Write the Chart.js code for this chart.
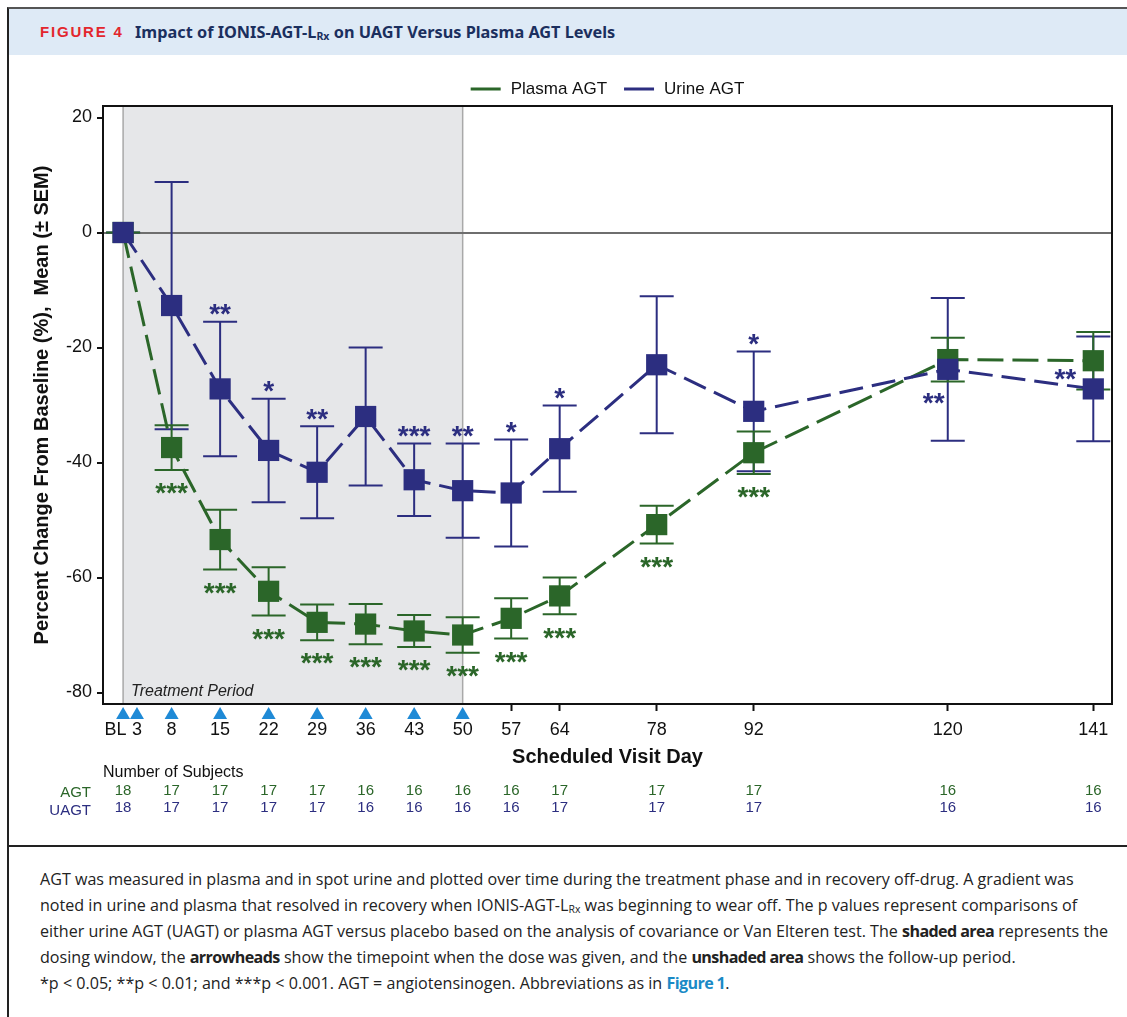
<!DOCTYPE html>
<html>
<head>
<meta charset="utf-8">
<script src="https://cdn.jsdelivr.net/npm/chart.js@4.4.1/dist/chart.umd.min.js"></script>
<style>
    body { margin: 0; background: #fff; width: 1127px; height: 1017px; overflow: hidden; position: relative; font-family: 'Liberation Sans', Arial, sans-serif; }
    #frame { position: absolute; left: 7px; top: 7px; width: 1130px; height: 1020px; border-left: 2px solid #222; border-top: 2px solid #555; }
    #head { position: absolute; left: 9px; top: 9px; width: 1118px; height: 46px; background: #deeaf6; }
    #fig { position: absolute; left: 40px; top: 23px; font: bold 15px 'Liberation Sans', Arial; color: #e3262d; letter-spacing: 1.8px; }
    #ttl { position: absolute; left: 135px; top: 21px; font: bold 16.3px 'Noto Sans'; color: #1b2f5e; }
    #ttl sub, #cap sub { font-size: 0.65em; vertical-align: -0.2em; line-height: 0; }
    #sep { position: absolute; left: 7px; top: 845px; width: 1120px; height: 2px; background: #222; }
    #wrap { position: absolute; left: 0; top: 56px; width: 1127px; height: 790px; }
    #cap { position: absolute; left: 40px; top: 866px; font: 16.1px 'Open Sans'; color: #222; line-height: 26px; white-space: nowrap; }
    #cap b { font-weight: bold; letter-spacing: -0.6px; }
</style>
</head>
<body>
<div id="frame"></div>
<div id="head"></div>
<div id="fig">FIGURE 4</div>
<div id="ttl">Impact of IONIS-AGT-L<sub>Rx</sub> on UAGT Versus Plasma AGT Levels</div>
<div id="wrap"><canvas id="agt-canvas"></canvas></div>
<div id="sep"></div>
<div id="cap">
AGT was measured in plasma and in spot urine and plotted over time during the treatment phase and in recovery off-drug. A gradient was<br>
noted in urine and plasma that resolved in recovery when IONIS-AGT-L<sub>Rx</sub> was beginning to wear off. The p values represent comparisons of<br>
either urine AGT (UAGT) or plasma AGT versus placebo based on the analysis of covariance or Van Elteren test. The <b>shaded area</b> represents the<br>
dosing window, the <b>arrowheads</b> show the timepoint when the dose was given, and the <b>unshaded area</b> shows the follow-up period.<br>
*p &lt; 0.05; **p &lt; 0.01; and ***p &lt; 0.001. AGT = angiotensinogen. Abbreviations as in <b style="color:#1a8ac6">Figure 1</b>.
</div>
<script>
// visit days (BL = day 1)
const visitDays = [1, 8, 15, 22, 29, 36, 43, 50, 57, 64, 78, 92, 120, 141];
const tickDays = [1, 3, 8, 15, 22, 29, 36, 43, 50, 57, 64, 78, 92, 120, 141];
const doseDays = [1, 3, 8, 15, 22, 29, 36, 43, 50];
const yTicks = [-80, -60, -40, -20, 0, 20];

const plasmaMean = [0, -37.4, -53.4, -62.4, -67.8, -68.1, -69.3, -70.0, -67.1, -63.2, -50.8, -38.3, -22.1, -22.3];
const plasmaSem = [0, 3.9, 5.2, 4.2, 3.1, 3.5, 2.8, 3.1, 3.5, 3.2, 3.3, 3.7, 3.8, 5.0];
const urineMean = [0, -12.7, -27.2, -37.9, -41.7, -32.0, -43.0, -44.9, -45.3, -37.6, -23.0, -31.1, -23.8, -27.2];
const urineSem = [0, 21.5, 11.7, 9.0, 8.0, 12.0, 6.3, 8.2, 9.3, 7.5, 11.9, 10.4, 12.4, 9.1];

const plasmaSig = ['', '***', '***', '***', '***', '***', '***', '***', '***', '***', '***', '***', '', ''];
const urineSig = ['', '', '**', '*', '**', '', '***', '**', '*', '*', '', '*', '**', '**'];

const plasmaN = [18, 17, 17, 17, 17, 16, 16, 16, 16, 17, 17, 17, 16, 16];
const urineN = [18, 17, 17, 17, 17, 16, 16, 16, 16, 17, 17, 17, 16, 16];

const GREEN = '#2b6629';
const NAVY = '#2c2e80';
const FONT = "'Liberation Sans', Arial, sans-serif";

function toPoints(means) {
    return visitDays.map((d, i) => ({ x: d, y: means[i] }));
}

// shaded treatment window + labels, error bars, stars, arrowheads, subject counts
const extras = {
    id: 'extras',
    beforeDraw(chart) {
        const { ctx, chartArea: a, scales: { x } } = chart;
        const x0 = x.getPixelForValue(doseDays[0]);
        const x1 = x.getPixelForValue(doseDays[doseDays.length - 1]);
        ctx.save();
        ctx.fillStyle = '#e6e7e9';
        ctx.fillRect(x0, a.top, x1 - x0, a.bottom - a.top);
        ctx.strokeStyle = '#a9a9a9';
        ctx.lineWidth = 1.5;
        ctx.beginPath();
        ctx.moveTo(x0, a.top); ctx.lineTo(x0, a.bottom);
        ctx.moveTo(x1, a.top); ctx.lineTo(x1, a.bottom);
        ctx.stroke();
        ctx.fillStyle = '#222';
        ctx.font = 'italic 16px ' + FONT;
        ctx.textBaseline = 'middle';
        ctx.fillText('Treatment Period', x0 + 8, a.bottom - 12);
        ctx.restore();
    },
    beforeDatasetsDraw(chart) {
        const { ctx, scales: { x, y } } = chart;
        const bars = [[urineMean, urineSem, NAVY], [plasmaMean, plasmaSem, GREEN]];
        ctx.save();
        ctx.lineWidth = 2;
        bars.forEach(([m, s, col]) => {
            ctx.strokeStyle = col;
            ctx.beginPath();
            visitDays.forEach((d, i) => {
                const px = x.getPixelForValue(d);
                const hi = y.getPixelForValue(m[i] + s[i]);
                const lo = y.getPixelForValue(m[i] - s[i]);
                ctx.moveTo(px, hi); ctx.lineTo(px, lo);
                ctx.moveTo(px - 17, hi); ctx.lineTo(px + 17, hi);
                ctx.moveTo(px - 17, lo); ctx.lineTo(px + 17, lo);
            });
            ctx.stroke();
        });
        ctx.restore();
    },
    afterDatasetsDraw(chart) {
        const { ctx, chartArea: a, scales: { x, y } } = chart;
        ctx.save();
        // significance stars
        const fs = 28;
        ctx.font = 'bold ' + fs + 'px ' + FONT;
        ctx.textAlign = 'center';
        ctx.textBaseline = 'alphabetic';
        const nudge = { 120: [-14, 26], 141: [-28, -17] }; // urine stars put beside the point
        visitDays.forEach((d, i) => {
            const px = x.getPixelForValue(d);
            if (urineSig[i]) {
                ctx.fillStyle = NAVY;
                let cx = px, cy = y.getPixelForValue(urineMean[i] + urineSem[i]) - 15;
                if (nudge[d]) { cx = px + nudge[d][0]; cy = y.getPixelForValue(urineMean[i]) + nudge[d][1]; }
                ctx.fillText(urineSig[i], cx, cy + fs * 0.58);
            }
            if (plasmaSig[i]) {
                ctx.fillStyle = GREEN;
                const cy = y.getPixelForValue(plasmaMean[i] - plasmaSem[i]) + 16;
                ctx.fillText(plasmaSig[i], px, cy + fs * 0.58);
            }
        });
        // plot frame (top and right)
        ctx.strokeStyle = '#111';
        ctx.lineWidth = 2;
        ctx.beginPath();
        ctx.moveTo(a.left - 1, a.top); ctx.lineTo(a.right, a.top); ctx.lineTo(a.right, a.bottom + 1);
        ctx.stroke();
        // dose arrowheads
        ctx.fillStyle = '#1f8ad6';
        doseDays.forEach(d => {
            const px = x.getPixelForValue(d);
            ctx.beginPath();
            ctx.moveTo(px, a.bottom + 3);
            ctx.lineTo(px + 7, a.bottom + 15);
            ctx.lineTo(px - 7, a.bottom + 15);
            ctx.closePath();
            ctx.fill();
        });
        // legend
        ctx.font = '17px ' + FONT;
        ctx.textAlign = 'left';
        ctx.textBaseline = 'middle';
        const items = chart.data.datasets.map(ds => [ds.label, ds.borderColor]);
        let total = 0;
        items.forEach(([t], k) => { total += 30 + 10 + ctx.measureText(t).width + (k ? 17 : 0); });
        let lx = (a.left + a.right) / 2 - total / 2;
        const ly = a.top - 17;
        items.forEach(([t, col]) => {
            ctx.fillStyle = col;
            ctx.fillRect(lx, ly - 1.5, 30, 3);
            ctx.fillStyle = '#111';
            ctx.fillText(t, lx + 40, ly);
            lx += 40 + ctx.measureText(t).width + 17;
        });
        // number of subjects
        const ty = a.bottom + 69;
        ctx.font = '16px ' + FONT;
        ctx.fillStyle = '#111';
        ctx.fillText('Number of Subjects', a.left, ty);
        ctx.font = '15px ' + FONT;
        ctx.textAlign = 'right';
        ctx.fillStyle = GREEN;
        ctx.fillText('AGT', a.left - 12, ty + 20);
        ctx.fillStyle = NAVY;
        ctx.fillText('UAGT', a.left - 12, ty + 38);
        ctx.textAlign = 'center';
        visitDays.forEach((d, i) => {
            const px = x.getPixelForValue(d);
            ctx.fillStyle = GREEN;
            ctx.fillText(String(plasmaN[i]), px, ty + 18);
            ctx.fillStyle = NAVY;
            ctx.fillText(String(urineN[i]), px, ty + 35);
        });
        ctx.restore();
    }
};

const agtChart = new Chart(document.getElementById('agt-canvas'), {
    type: 'line',
    data: {
        datasets: [{
            label: 'Plasma AGT',
            data: toPoints(plasmaMean),
            borderColor: GREEN,
            backgroundColor: GREEN,
            borderWidth: 3,
            borderDash: [26, 9],
            pointStyle: 'rect',
            pointRadius: 15,
            pointBorderWidth: 0,
            pointBackgroundColor: GREEN,
            tension: 0,
            order: 1
        }, {
            label: 'Urine AGT',
            data: toPoints(urineMean),
            borderColor: NAVY,
            backgroundColor: NAVY,
            borderWidth: 3,
            borderDash: [24, 9],
            pointStyle: 'rect',
            pointRadius: 15,
            pointBorderWidth: 0,
            pointBackgroundColor: NAVY,
            tension: 0,
            order: 0
        }]
    },
    options: {
        responsive: true,
        maintainAspectRatio: false,
        animation: false,
        layout: { padding: { top: 50, left: 8, right: 11, bottom: 77 } },
        plugins: {
            legend: { display: false },
            tooltip: { enabled: false }
        },
        scales: {
            x: {
                type: 'linear',
                min: -1.9,
                max: 143.7,
                afterBuildTicks: s => { s.ticks = tickDays.map(v => ({ value: v })); },
                afterFit: s => { s.height = 65; },
                ticks: {
                    autoSkip: false,
                    maxRotation: 0,
                    padding: 8,
                    color: '#111',
                    font: { family: FONT, size: 18 },
                    callback: v => v === 1 ? 'BL   ' : String(v)
                },
                grid: {
                    drawOnChartArea: false,
                    drawTicks: true,
                    tickLength: 7,
                    tickWidth: 2,
                    tickColor: ctx => doseDays.includes(ctx.tick && ctx.tick.value) ? 'rgba(0,0,0,0)' : '#111'
                },
                border: { color: '#111', width: 2 },
                title: {
                    display: true,
                    text: 'Scheduled Visit Day',
                    color: '#111',
                    padding: 0,
                    font: { family: FONT, size: 20, weight: 'bold' }
                }
            },
            y: {
                min: -82,
                max: 22,
                afterBuildTicks: s => { s.ticks = yTicks.map(v => ({ value: v })); },
                afterFit: s => { s.width = 95; },
                ticks: {
                    padding: 5,
                    color: '#111',
                    font: { family: FONT, size: 18 }
                },
                grid: {
                    color: ctx => ctx.tick && ctx.tick.value === 0 ? '#6e6e6e' : 'rgba(0,0,0,0)',
                    lineWidth: 2,
                    drawTicks: true,
                    tickLength: 6,
                    tickWidth: 2,
                    tickColor: '#111'
                },
                border: { color: '#111', width: 2 },
                title: {
                    display: true,
                    text: 'Percent Change From Baseline (%),  Mean (± SEM)',
                    color: '#111',
                    padding: { top: 22, bottom: 0 },
                    font: { family: FONT, size: 20, weight: 'bold' }
                }
            }
        }
    },
    plugins: [extras]
});
</script>
</body>
</html>
